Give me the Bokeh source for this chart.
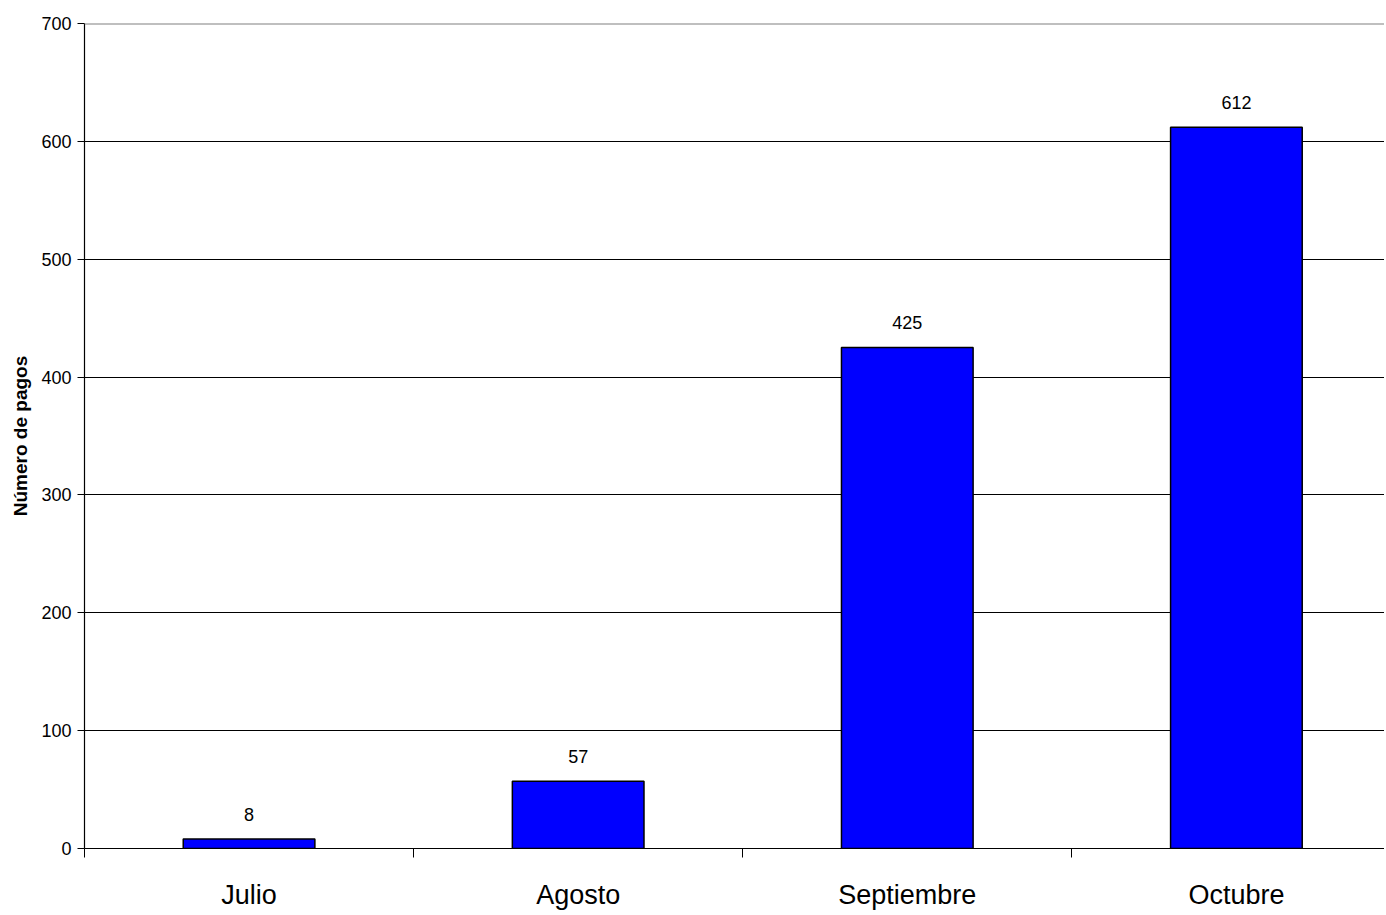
from bokeh.plotting import figure
from bokeh.models import FixedTicker, Span, ColumnDataSource
from bokeh.embed import file_html
from bokeh.resources import INLINE
from bokeh.core.properties import value

categories = ["Julio", "Agosto", "Septiembre", "Octubre"]
pagos = [8, 57, 425, 612]
y_ticks = [0, 100, 200, 300, 400, 500, 600, 700]

centers = [i + 0.5 for i in range(len(categories))]
bounds = [i for i in range(len(categories) + 1)]

FONT = "Liberation Sans"

p = figure(width=1384, height=913, output_backend="svg", toolbar_location=None,
           x_range=(0, len(categories) - 0.05), y_range=(0, 700),
           min_border_left=84, min_border_right=0, min_border_top=23, min_border_bottom=65)
p.outline_line_color = None
p.background_fill_color = "white"
p.border_fill_color = "white"

src = ColumnDataSource(dict(x=centers, top=pagos, lab=[str(v) for v in pagos]))
p.vbar(x="x", top="top", bottom=0, width=0.4, source=src,
       fill_color="#0000FF", line_color="black", line_width=1.5)
p.text(x="x", y="top", text="lab", source=src, y_offset=-25,
       text_align="center", text_baseline="middle",
       text_font=value(FONT), text_font_size="18px", text_color="black")

# x axis
p.xaxis.ticker = FixedTicker(ticks=centers, minor_ticks=bounds)
p.xaxis.major_label_overrides = {c: categories[i] for i, c in enumerate(centers)}
p.xaxis.major_tick_out = 0
p.xaxis.major_tick_in = 0
p.xaxis.minor_tick_out = 9
p.xaxis.minor_tick_in = 0
p.xaxis.minor_tick_line_color = "black"
p.xaxis.axis_line_color = "black"
p.xaxis.axis_line_width = 1.2
p.xaxis.major_label_text_font = FONT
p.xaxis.major_label_text_font_size = "27px"
p.xaxis.major_label_text_color = "black"
p.xaxis.major_label_standoff = 22
p.xgrid.visible = False

# y axis
p.yaxis.ticker = FixedTicker(ticks=y_ticks)
p.yaxis.major_tick_out = 7
p.yaxis.major_tick_in = 0
p.yaxis.minor_tick_line_color = None
p.yaxis.axis_line_color = "black"
p.yaxis.axis_line_width = 1.2
p.yaxis.major_tick_line_color = "black"
p.yaxis.major_label_text_font = FONT
p.yaxis.major_label_text_font_size = "18px"
p.yaxis.major_label_text_color = "black"
p.yaxis.major_label_standoff = 6
p.yaxis.axis_label = "Número de pagos"
p.yaxis.axis_label_text_font = FONT
p.yaxis.axis_label_text_font_style = "bold"
p.yaxis.axis_label_text_font_size = "19px"
p.yaxis.axis_label_text_color = "black"
p.yaxis.axis_label_standoff = 7

p.ygrid.grid_line_color = "black"
p.ygrid.grid_line_width = 1
p.ygrid.grid_line_alpha = 1.0

p.add_layout(Span(location=700, dimension="width", line_color="#808080", line_width=2))

open("out.html", "w").write(file_html(p, INLINE))
